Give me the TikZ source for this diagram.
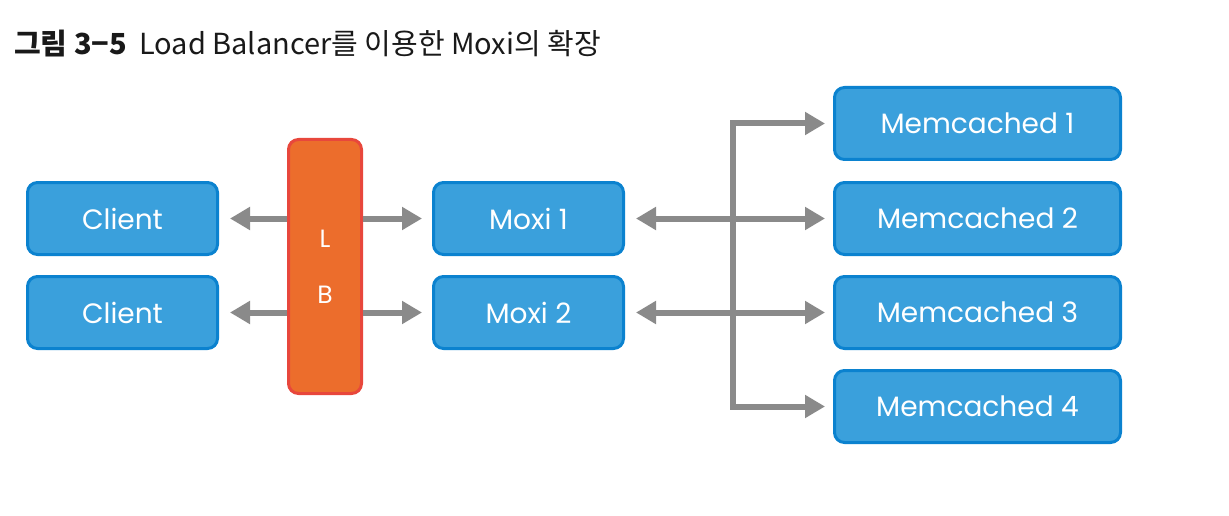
\documentclass[tikz,border=0pt]{standalone}
\usepackage{fontspec}
\setmainfont{Poppins}
\newfontfamily\kr{Noto Sans CJK KR}
\usetikzlibrary{arrows.meta}
\definecolor{boxblue}{HTML}{3AA0DC}
\definecolor{boxline}{HTML}{0B82CF}
\definecolor{lbfill}{HTML}{EC6D2C}
\definecolor{lbline}{HTML}{E8473C}
\definecolor{arrgray}{HTML}{8A8A8A}

\begin{document}
\begin{tikzpicture}[x=1pt,y=-1pt,
	box/.style={draw=boxline,fill=boxblue,line width=3pt,rounded corners=10pt,
		minimum width=190pt,minimum height=72pt,inner sep=0pt,
		text=white,font=\fontsize{28}{32}\selectfont},
	membox/.style={box,minimum width=286pt},
	lbbox/.style={box,draw=lbline,fill=lbfill,minimum width=73pt,minimum height=254pt,
		align=center,font=\fontsize{25}{28}\selectfont},
	link/.style={arrgray,line width=6pt,-{Triangle[length=20pt,width=22pt]}},
	biglink/.style={link,{Triangle[length=20pt,width=22pt]}-{Triangle[length=20pt,width=22pt]}}]
	\useasboundingbox (0,0) rectangle (1229,516);

	\node[anchor=base west,inner sep=0pt,font=\kr\fontsize{29}{32}\selectfont,text=black!90] (title) at (14,55)
		{\textbf{그림 3−5}\hspace{12pt}Load Balancer를 이용한 Moxi의 확장};

	% clients, LB, moxi
	\node[box] (c1) at (122.5,218.5) {Client};
	\node[box] (c2) at (122.5,312.5) {Client};
	\node[lbbox] (lb) at (325,266.5) {L\\[28pt]B};
	\node[box] (m1) at (528.5,218.5) {Moxi 1};
	\node[box] (m2) at (528.5,312.5) {Moxi 2};

	% memcached
	\foreach \i/\y in {1/123.5,2/218.5,3/312.5,4/406.5}{
		\node[membox] (mc\i) at (977.5,\y) {Memcached \i};
	}
	\coordinate (bus) at (733,0);

	\foreach \i in {1,2}{
		\draw[link,shorten >=11pt] (lb.west |- c\i) -- (c\i.east);
		\draw[link,shorten >=10pt] (lb.east |- m\i) -- (m\i.west);
	}
	\draw[biglink,shorten <=11pt,shorten >=8pt] (m1.east) -- (mc2.west);
	\draw[biglink,shorten <=11pt,shorten >=8pt] (m2.east) -- (mc3.west);
	\draw[biglink,shorten <=8pt,shorten >=8pt] (mc1.west) -- (mc1.west -| bus) -- (mc4.west -| bus) -- (mc4.west);
\end{tikzpicture}
\end{document}
